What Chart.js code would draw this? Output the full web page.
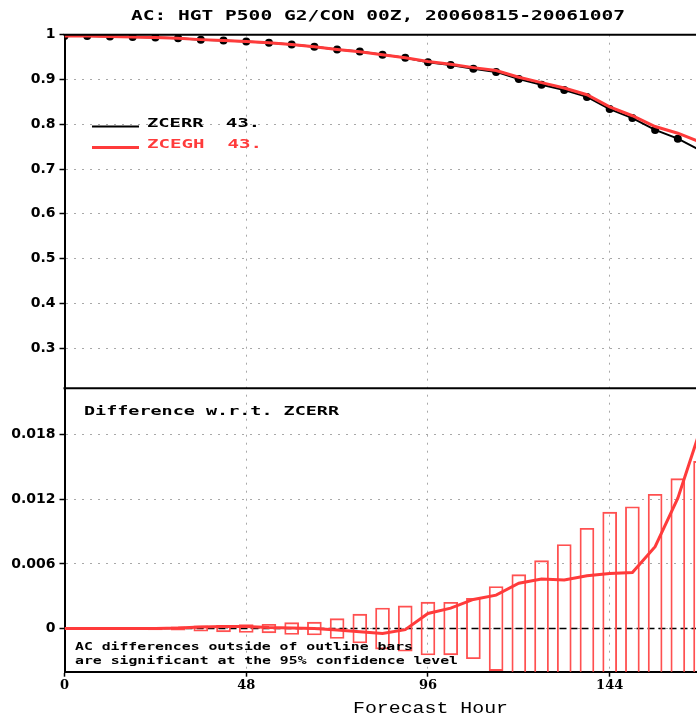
<!DOCTYPE html>
<html><head><meta charset="utf-8">
<script src="https://cdn.jsdelivr.net/npm/chart.js@4/dist/chart.umd.min.js"></script>
<style>html,body{margin:0;padding:0;background:#fff;overflow:hidden}#wrap{width:700px;height:719px;position:relative}canvas{display:block}</style>
</head><body><div id="wrap"><canvas id="c" width="700" height="719"></canvas></div>
<script>
const HOURS = [0,6,12,18,24,30,36,42,48,54,60,66,72,78,84,90,96,102,108,114,120,126,132,138,144,150,156,162,168];
const ZCEGH = [0.997,0.997,0.996,0.995,0.994,0.992,0.989,0.987,0.985,0.982,0.978,0.973,0.967,0.962,0.955,0.9485,0.940,0.934,0.9265,0.920,0.905,0.893,0.881,0.866,0.839,0.819,0.795,0.780,0.760];
const ZCERR = [0.997,0.997,0.996,0.995,0.994,0.992,0.9889,0.9868,0.9848,0.9819,0.978,0.973,0.9671,0.9623,0.9555,0.9486,0.9386,0.9321,0.9238,0.9169,0.9008,0.8884,0.8765,0.8611,0.8339,0.8138,0.7874,0.7679,0.7415];
const DIFF = [0,0,0,0,0,0.00005,0.00015,0.0002,0.0002,0.0001,0.00005,0,-0.00013,-0.0003,-0.00045,-0.0001,0.0014,0.0019,0.0027,0.0031,0.0042,0.0046,0.0045,0.0049,0.0051,0.0052,0.0076,0.0121,0.0185];
const CONF = [0,0.00004,0.00006,0.0001,0.00012,0.00015,0.00025,0.0003,0.00036,0.0004,0.00055,0.0006,0.00092,0.00134,0.0019,0.0021,0.00245,0.00244,0.0028,0.0039,0.005,0.0063,0.0078,0.0093,0.0108,0.0113,0.01245,0.0139,0.0155];
const TOP_TICKS = [0.3,0.4,0.5,0.6,0.7,0.8,0.9,1];
const BOT_TICKS = [0,0.006,0.012,0.018];
const X_TICKS = [0,48,96,144];
const SERIES_NAMES = ['ZCERR','ZCEGH'];
const SERIES_COUNT = '43.';
const TITLE = 'AC: HGT P500 G2/CON 00Z, 20060815-20061007';
const SUBTITLE = 'Difference w.r.t. ZCERR';
const NOTE1 = 'AC differences outside of outline bars';
const NOTE2 = 'are significant at the 95% confidence level';
const XLABEL = 'Forecast Hour';

const RED = '#ff3b3b';
const GRID = '#a8a8a8';

function fitText(ctx, text, x, y, font, color, width, align) {
  ctx.save();
  ctx.font = font; ctx.fillStyle = color; ctx.textBaseline = 'middle'; ctx.textAlign = 'left';
  const w = ctx.measureText(text).width;
  const s = width / w;
  const left = align === 'center' ? x - width / 2 : x;
  ctx.translate(left, y); ctx.scale(s, 1);
  ctx.fillText(text, 0, 0);
  ctx.restore();
}

const decor = {
  id: 'decor',
  beforeDatasetsDraw(chart) {
    const ctx = chart.ctx, a = chart.chartArea, yb = chart.scales.yBot;
    const y0 = yb.getPixelForValue(0);
    ctx.save();
    ctx.strokeStyle = '#000'; ctx.lineWidth = 1.5; ctx.setLineDash([7, 4]);
    ctx.beginPath(); ctx.moveTo(a.left, y0); ctx.lineTo(a.right, y0); ctx.stroke();
    ctx.restore();
  },
  afterDraw(chart) {
    const ctx = chart.ctx, a = chart.chartArea, yt = chart.scales.yTop;
    ctx.save();
    ctx.strokeStyle = '#000'; ctx.lineWidth = 2;
    ctx.beginPath(); ctx.moveTo(a.left - 1, a.top); ctx.lineTo(a.right, a.top); ctx.stroke();
    ctx.beginPath(); ctx.moveTo(a.left - 1, yt.bottom); ctx.lineTo(a.right, yt.bottom); ctx.stroke();
    ctx.lineWidth = 2; ctx.strokeStyle = '#000';
    ctx.beginPath(); ctx.moveTo(92, 126.5); ctx.lineTo(139, 126.5); ctx.stroke();
    ctx.lineWidth = 3; ctx.strokeStyle = RED;
    ctx.beginPath(); ctx.moveTo(92, 147.5); ctx.lineTo(139, 147.5); ctx.stroke();
    ctx.restore();
    const mono = "'DejaVu Sans Mono'";
    fitText(ctx, TITLE, 378, 16, 'bold 14px ' + mono, '#000', 494, 'center');
    fitText(ctx, SERIES_NAMES[0] + '  ' + SERIES_COUNT, 147, 124, 'bold 13px ' + mono, '#000', 113, 'left');
    fitText(ctx, SERIES_NAMES[1] + '  ' + SERIES_COUNT, 147, 145, 'bold 13px ' + mono, RED, 115, 'left');
    fitText(ctx, SUBTITLE, 84, 412, 'bold 13px ' + mono, '#000', 255, 'left');
    fitText(ctx, NOTE1, 75, 647.5, 'bold 11px ' + mono, '#000', 338, 'left');
    fitText(ctx, NOTE2, 75, 661, 'bold 11px ' + mono, '#000', 383, 'left');
    fitText(ctx, XLABEL, 430.5, 709, "16px 'Liberation Mono'", '#000', 155, 'center');
  }
};

const pts = arr => HOURS.map((h, i) => ({x: h, y: arr[i]}));

new Chart(document.getElementById('c'), {
  type: 'line',
  data: {
    datasets: [
      {label: SERIES_NAMES[1], data: pts(ZCEGH), yAxisID: 'yTop', borderColor: RED, borderWidth: 3, pointRadius: 0, tension: 0, order: 1},
      {label: SERIES_NAMES[0], data: pts(ZCERR), yAxisID: 'yTop', borderColor: '#000', borderWidth: 2, pointRadius: 4, pointBackgroundColor: '#000', pointBorderWidth: 0, tension: 0, order: 2},
      {label: 'diff', data: pts(DIFF), yAxisID: 'yBot', borderColor: RED, borderWidth: 3, pointRadius: 0, tension: 0, order: 1},
      {type: 'bar', label: 'conf', data: HOURS.map((h, i) => ({x: h, y: [-CONF[i], CONF[i]]})), yAxisID: 'yBot', xAxisID: 'x',
       backgroundColor: 'rgba(0,0,0,0)', borderColor: '#ff5050', borderWidth: 1.2, borderSkipped: false, barThickness: 14, order: 3}
    ]
  },
  options: {
    responsive: false, animation: false, devicePixelRatio: 1,
    layout: {padding: {top: 34.7, right: 0, bottom: 0, left: 0}},
    plugins: {legend: {display: false}, tooltip: {enabled: false}},
    scales: {
      x: {
        type: 'linear', position: 'bottom', min: 0, max: 166.8, offset: false,
        afterBuildTicks: s => { s.ticks = X_TICKS.map(v => ({value: v})); },
        afterFit: s => { s.height = 47.3; },
        grid: {offset: false, color: GRID, lineWidth: 1, tickLength: 5, tickColor: '#000', tickWidth: 1.5},
        border: {color: '#000', width: 2, dash: [2, 6]},
        ticks: {color: '#000', font: {family: "'DejaVu Serif'", weight: 'bold', size: 13}, padding: 1, maxRotation: 0, autoSkip: false, callback: v => String(v)}
      },
      yTop: {
        type: 'linear', position: 'left', stack: 'panels', stackWeight: 353.6, weight: 1, min: 0.2107, max: 1,
        afterBuildTicks: s => { s.ticks = TOP_TICKS.map(v => ({value: v})); },
        afterFit: s => { s.width = 64.5; },
        grid: {color: GRID, lineWidth: 1, tickLength: 5, tickColor: '#000', tickWidth: 1.5},
        border: {color: '#000', width: 2, dash: [2, 6]},
        ticks: {color: '#000', font: {family: "'DejaVu Sans'", weight: 'bold', size: 14}, padding: 4, autoSkip: false, callback: v => v === 1 ? '1' : v.toFixed(1)}
      },
      yBot: {
        type: 'linear', position: 'left', stack: 'panels', stackWeight: 283.7, weight: 0, min: -0.004, max: 0.0223,
        afterBuildTicks: s => { s.ticks = BOT_TICKS.map(v => ({value: v})); },
        afterFit: s => { s.width = 64.5; },
        grid: {color: GRID, lineWidth: 1, tickLength: 5, tickColor: '#000', tickWidth: 1.5},
        border: {color: '#000', width: 2, dash: [2, 6]},
        ticks: {color: '#000', font: {family: "'DejaVu Sans'", weight: 'bold', size: 14}, padding: 4, autoSkip: false, callback: v => v === 0 ? '0' : v.toFixed(3)}
      }
    }
  },
  plugins: [decor]
});
</script></body></html>
